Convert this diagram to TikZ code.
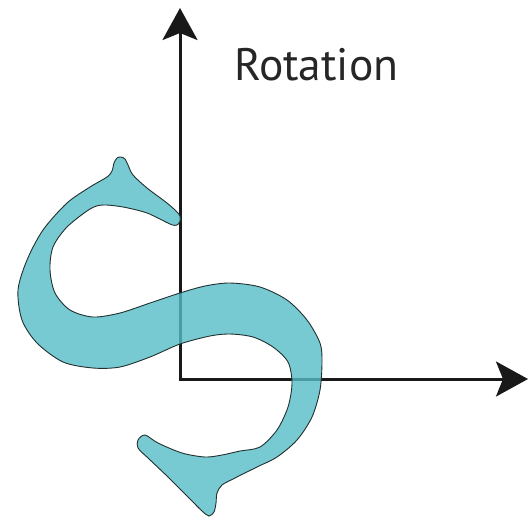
\documentclass[tikz,border=0pt]{standalone}
\usepackage{fontspec}
\setmainfont{PT Sans}
\usepackage{tikz}
\usetikzlibrary{arrows.meta}
\definecolor{rotteal}{HTML}{55BCC7}
\definecolor{rotink}{HTML}{22302F}

\begin{document}
\begin{tikzpicture}[x=1pt,y=-1pt]
    \useasboundingbox (0,0) rectangle (529,517);
    \coordinate (origin) at (180,379);
    \coordinate (ytip) at (180,8);
    \coordinate (xtip) at (528,379);
    \draw[{Stealth[length=32pt,width=35pt,inset=7pt]}-{Stealth[length=32pt,width=35pt,inset=7pt]},line width=3pt,black!90] (ytip) -- (origin) -- (xtip);
    \node[anchor=base west,inner sep=0pt,font=\fontsize{45.5}{52}\selectfont,black!85] (label) at (234,80) {Rotation};
    % the letter S, turned
    \filldraw[fill=rotteal,fill opacity=0.8,draw=rotink,line width=0.9pt] plot[smooth cycle,tension=0.5] coordinates {
      (121,157)(125,159)(128,165)(133,175)(147,188)(167,203)(178,213)(181,219)(177,225)(170,224)
      (147,213)(123,207)(103,205)(90,209)(67,227)(53,247)(50,270)(55,293)(70,310)(93,317)
      (120,313)(150,303)(180,293)(205,286)(230,283)(260,287)(287,300)(307,320)(320,343)
      (322,362)(320,390)(312,417)(297,440)(277,457)(257,467)(235,478)(222,485)(217,493)
      (216,503)(214,512)(209,516)(202,511)(188,497)(168,477)(148,458)(138,448)(138,440)
      (145,435)(158,443)(182,453)(205,457)(222,455)(240,451)(260,447)(277,430)(288,407)
      (292,383)(288,362)(273,347)(253,337)(230,334)(210,336)(180,344)(150,357)(120,367)
      (93,368)(63,362)(37,343)(22,320)(18,290)(27,260)(43,230)(67,203)(90,187)(107,177)
      (112,171)(114,163)(117,158)};
  \end{tikzpicture}
\end{document}
